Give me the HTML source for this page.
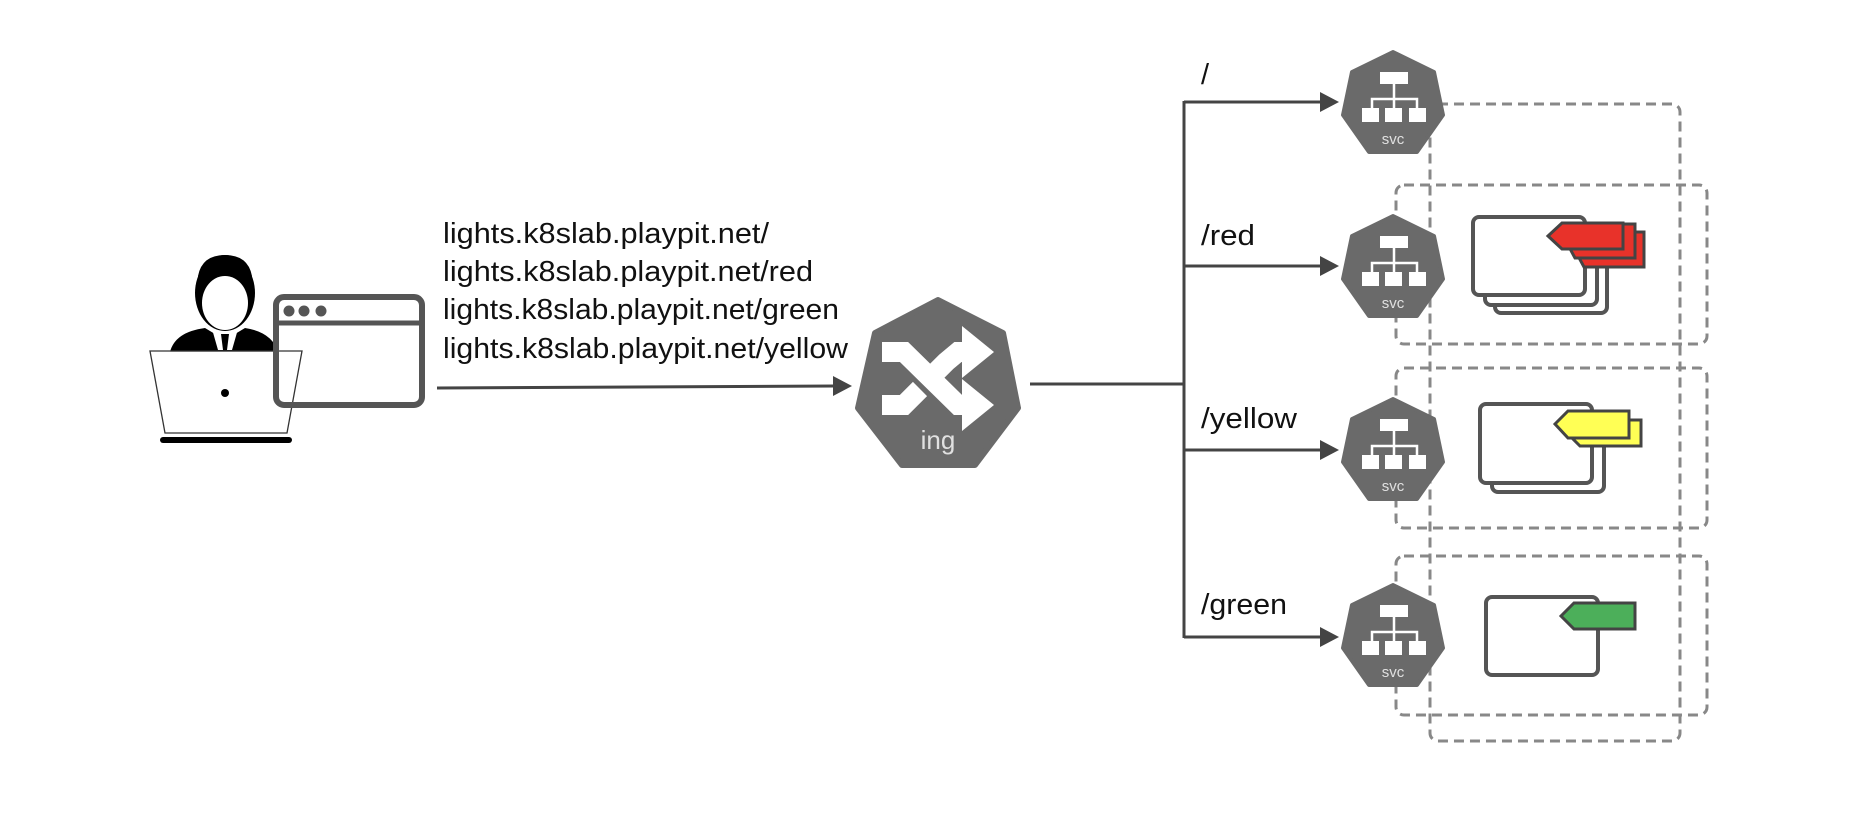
<!DOCTYPE html>
<html><head><meta charset="utf-8"><style>
html,body{margin:0;padding:0;background:#fff;}
svg{display:block;}
text{font-family:"Liberation Sans",sans-serif;}
</style></head><body>
<svg width="1862" height="818" viewBox="0 0 1862 818" xmlns="http://www.w3.org/2000/svg">
<defs>
<g id="svc">
  <path d="M50,0 L91,20 L100,63 L74,100 L26,100 L0,63 L9,20 Z" fill="#6a6a6a" stroke="#6a6a6a" stroke-width="4" stroke-linejoin="round"/>
  <rect x="37" y="20" width="28" height="12" fill="#fff"/>
  <path d="M51,32 V47 M29,56 V47 H74 V56 M51,47 V56" stroke="#fff" stroke-width="2.5" fill="none"/>
  <rect x="19" y="56" width="17" height="14" fill="#fff"/>
  <rect x="42" y="56" width="17" height="14" fill="#fff"/>
  <rect x="66" y="56" width="17" height="14" fill="#fff"/>
  <text x="50" y="92" font-size="15" fill="#e0e0e0" text-anchor="middle">svc</text>
</g>
</defs>

<!-- person -->
<ellipse cx="225" cy="293" rx="30" ry="38" fill="#000"/>
<ellipse cx="225" cy="303" rx="23" ry="27" fill="#fff"/>
<path d="M201,290 Q203,268 225,268 Q247,268 249,290 L252,276 Q248,255 225,255 Q202,255 198,276 Z" fill="#000"/>
<path d="M170,352 Q175,332 205,328 L225,340 L245,328 Q272,332 278,352 Z" fill="#000"/>
<path d="M212,329 L225,338 L238,329 L232,350 L218,350 Z" fill="#fff"/>
<path d="M221,334 L229,334 L227,350 L223,350 Z" fill="#000"/>
<!-- laptop -->
<path d="M150,351 L302,351 L287,433 L165,433 Z" fill="#fff" fill-opacity="0.85" stroke="#333" stroke-width="1.3"/>
<circle cx="225" cy="393" r="4" fill="#000"/>
<rect x="160" y="437" width="132" height="6" rx="3" fill="#000"/>
<!-- browser -->
<rect x="276" y="297" width="146" height="108" rx="8" fill="none" stroke="#555" stroke-width="6"/>
<line x1="276" y1="323" x2="422" y2="323" stroke="#555" stroke-width="5"/>
<circle cx="289" cy="311" r="5.5" fill="#555"/>
<circle cx="304" cy="311" r="5.5" fill="#555"/>
<circle cx="321" cy="311" r="5.5" fill="#555"/>

<!-- URL text -->
<g font-size="29" fill="#111">
<text x="443" y="243" textLength="326" lengthAdjust="spacingAndGlyphs">lights.k8slab.playpit.net/</text>
<text x="443" y="281" textLength="370" lengthAdjust="spacingAndGlyphs">lights.k8slab.playpit.net/red</text>
<text x="443" y="319" textLength="396" lengthAdjust="spacingAndGlyphs">lights.k8slab.playpit.net/green</text>
<text x="443" y="358" textLength="405" lengthAdjust="spacingAndGlyphs">lights.k8slab.playpit.net/yellow</text>
</g>
<!-- arrow user -> ing -->
<line x1="437" y1="388" x2="835" y2="386" stroke="#444" stroke-width="3"/>
<path d="M833,376 L852,386 L833,396 Z" fill="#444"/>

<!-- ingress -->
<path d="M938,300 L1003,333 L1018,408 L975,465 L902,465 L858,408 L875,333 Z" fill="#6a6a6a" stroke="#6a6a6a" stroke-width="6" stroke-linejoin="round"/>
<path d="M882,352 H904 L958,405 H968" stroke="#fff" stroke-width="20" fill="none"/>
<path d="M882,405 H904 L920,389 M930,378 L946,362 L958,352 H968" stroke="#fff" stroke-width="20" fill="none"/>
<path d="M962,326 L994,352 L962,378 Z" fill="#fff"/>
<path d="M962,379 L994,405 L962,431 Z" fill="#fff"/>
<text x="938" y="449" font-size="26" fill="#e0e0e0" text-anchor="middle">ing</text>

<!-- trunk -->
<line x1="1030" y1="384" x2="1184" y2="384" stroke="#444" stroke-width="3"/>
<line x1="1184" y1="101" x2="1184" y2="638" stroke="#444" stroke-width="3"/>
<g stroke="#444" stroke-width="3">
<line x1="1184" y1="102" x2="1322" y2="102"/>
<line x1="1184" y1="266" x2="1322" y2="266"/>
<line x1="1184" y1="450" x2="1322" y2="450"/>
<line x1="1184" y1="637" x2="1322" y2="637"/>
</g>
<g fill="#444">
<path d="M1320,92 L1339,102 L1320,112 Z"/>
<path d="M1320,256 L1339,266 L1320,276 Z"/>
<path d="M1320,440 L1339,450 L1320,460 Z"/>
<path d="M1320,627 L1339,637 L1320,647 Z"/>
</g>
<g font-size="29" fill="#111">
<text x="1201" y="84">/</text>
<text x="1201" y="245" textLength="54" lengthAdjust="spacingAndGlyphs">/red</text>
<text x="1201" y="428" textLength="96" lengthAdjust="spacingAndGlyphs">/yellow</text>
<text x="1201" y="614" textLength="86" lengthAdjust="spacingAndGlyphs">/green</text>
</g>

<!-- dashed boxes -->
<g fill="none" stroke="#888" stroke-width="3" stroke-dasharray="10,6">
<rect x="1430" y="104" width="250" height="637" rx="8"/>
<rect x="1396" y="185" width="311" height="159" rx="8"/>
<rect x="1396" y="368" width="311" height="160" rx="8"/>
<rect x="1396" y="556" width="311" height="159" rx="8"/>
</g>

<!-- svc icons -->
<use href="#svc" x="1343" y="52"/>
<use href="#svc" x="1343" y="216"/>
<use href="#svc" x="1343" y="399"/>
<use href="#svc" x="1343" y="585"/>

<!-- red pods -->
<g stroke="#555" stroke-width="4" fill="#fff">
<rect x="1495" y="235" width="112" height="78" rx="6"/>
<rect x="1485" y="227" width="112" height="78" rx="6"/>
<rect x="1473" y="217" width="112" height="78" rx="6"/>
</g>
<g stroke="#444" stroke-width="3" fill="#e8322a">
<path d="M1570,241 L1584,232 L1644,232 L1644,267 L1584,267 Z"/>
<path d="M1561,232 L1575,224 L1635,224 L1635,258 L1575,258 Z"/>
<path d="M1548,236 L1562,223 L1623,223 L1623,249 L1562,249 Z"/>
</g>
<!-- yellow pods -->
<g stroke="#555" stroke-width="4" fill="#fff">
<rect x="1492" y="413" width="112" height="79" rx="6"/>
<rect x="1480" y="404" width="112" height="79" rx="6"/>
</g>
<g stroke="#444" stroke-width="3" fill="#ffff55">
<path d="M1567,433 L1580,420 L1641,420 L1641,446 L1580,446 Z"/>
<path d="M1555,424 L1568,411 L1629,411 L1629,438 L1568,438 Z"/>
</g>
<!-- green pod -->
<rect x="1486" y="597" width="112" height="78" rx="6" stroke="#555" stroke-width="4" fill="#fff"/>
<path d="M1561,616 L1574,603 L1635,603 L1635,629 L1574,629 Z" stroke="#444" stroke-width="3" fill="#4caf5a"/>
</svg>
</body></html>
